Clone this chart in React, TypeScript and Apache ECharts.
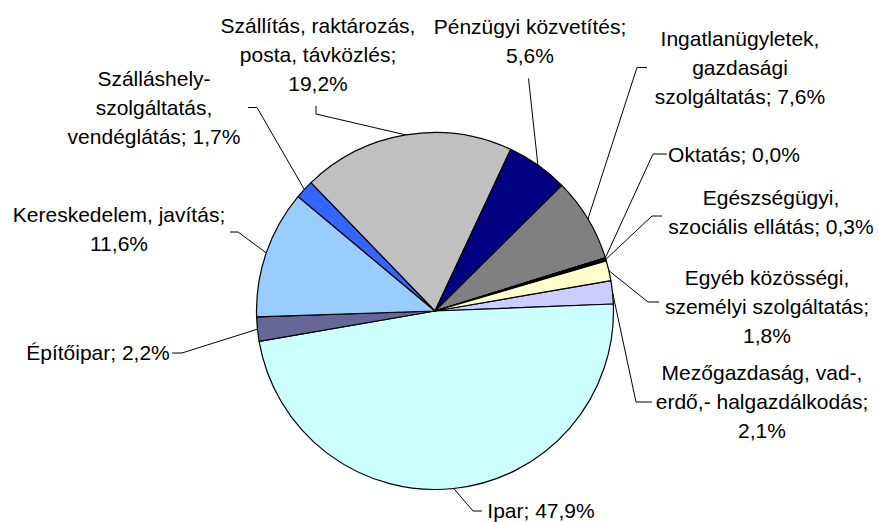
import React, { useEffect, useRef } from "react";
import * as echarts from "echarts";

// ---- data ----
const categories: string[] = [
  "Mezőgazdaság, vad-,\nerdő,- halgazdálkodás",
  "Ipar",
  "Építőipar",
  "Kereskedelem, javítás",
  "Szálláshely-\nszolgáltatás,\nvendéglátás",
  "Szállítás, raktározás,\nposta, távközlés",
  "Pénzügyi közvetítés",
  "Ingatlanügyletek,\ngazdasági\nszolgáltatás",
  "Oktatás",
  "Egészségügyi,\nszociális ellátás",
  "Egyéb közösségi,\nszemélyi szolgáltatás",
];
const shares: number[] = [2.1, 47.9, 2.2, 11.6, 1.7, 19.2, 5.6, 7.6, 0.0, 0.3, 1.8];
const valueSeparators: string[] = [";\n", "; ", "; ", ";\n", "; ", ";\n", ";\n", "; ", "; ", "; ", ";\n"];

// ---- styles / layout ----
const sliceColors: string[] = [
  "#CCCCFF", "#CCFFFF", "#666699", "#99CCFF", "#3366FF", "#C0C0C0",
  "#000080", "#808080", "#FFFFFF", "#000000", "#FFFFCC",
];
const PIE_CENTER: [number, number] = [435, 311];
const PIE_RADIUS = 178.5;
const START_ANGLE = 9.8;

type LabelPlace = { x: number; y: number; elbow: number[]; end: number[] };
const labelPlaces: LabelPlace[] = [
  { x: 762, y: 401, elbow: [636, 402], end: [652, 402] },
  { x: 541, y: 510, elbow: [473, 511], end: [482, 511] },
  { x: 98, y: 352, elbow: [182, 353], end: [172, 353] },
  { x: 119, y: 229, elbow: [238, 232], end: [230, 232] },
  { x: 154, y: 107, elbow: [257, 107.5], end: [248, 107.5] },
  { x: 318, y: 54, elbow: [316, 114], end: [316, 106] },
  { x: 530, y: 41, elbow: [528.5, 78.5], end: [528.5, 78.5] },
  { x: 740, y: 67, elbow: [637, 67.5], end: [647, 67.5] },
  { x: 734, y: 154, elbow: [653, 154], end: [667, 154] },
  { x: 771, y: 212, elbow: [652, 216], end: [662, 216] },
  { x: 767, y: 306, elbow: [648, 302], end: [659, 302] },
];

function fallbackEdge(i: number): number[] {
  const total = shares.reduce((a, b) => a + b, 0);
  let before = 0;
  for (let k = 0; k < i; k++) before += shares[k];
  const mid = ((START_ANGLE - (360 * (before + shares[i] / 2)) / total) * Math.PI) / 180;
  return [PIE_CENTER[0] + PIE_RADIUS * Math.cos(mid), PIE_CENTER[1] - PIE_RADIUS * Math.sin(mid)];
}

export default function App() {
  const ref = useRef<HTMLDivElement>(null);
  useEffect(() => {
    if (!ref.current) return;
    const chart = echarts.init(ref.current, undefined, { renderer: "svg" });
    chart.setOption({
      animation: false,
      backgroundColor: "#ffffff",
      series: [
        {
          type: "pie",
          center: PIE_CENTER,
          radius: PIE_RADIUS,
          startAngle: START_ANGLE,
          clockwise: true,
          avoidLabelOverlap: false,
          minShowLabelAngle: 0,
          data: categories.map((name, i) => ({
            name,
            value: shares[i],
            itemStyle: { color: sliceColors[i] },
          })),
          itemStyle: { borderColor: "#000000", borderWidth: 1.2 },
          emphasis: { disabled: true },
          label: {
            show: true,
            position: "outside",
            color: "#000000",
            fontFamily: "'Liberation Sans', Arial, sans-serif",
            fontSize: 21,
            lineHeight: 29,
            formatter: (p: any) =>
              `${p.name}${valueSeparators[p.dataIndex]}${shares[p.dataIndex]
                .toFixed(1)
                .replace(".", ",")}%`,
          },
          labelLine: {
            show: true,
            length: 10,
            length2: 10,
            smooth: false,
            lineStyle: { color: "#000000", width: 1 },
          },
          labelLayout: (params: any) => {
            const i = params.dataIndex;
            const place = labelPlaces[i];
            const edge =
              params.labelLinePoints && params.labelLinePoints[0]
                ? params.labelLinePoints[0]
                : fallbackEdge(i);
            return {
              x: place.x,
              y: place.y,
              align: "center",
              verticalAlign: "middle",
              labelLinePoints: [edge, place.elbow, place.end],
            };
          },
        },
      ],
    });
    return () => chart.dispose();
  }, []);
  return (
    <div
      ref={ref}
      style={{ position: "fixed", left: 0, top: 0, width: 879, height: 522 }}
    />
  );
}
